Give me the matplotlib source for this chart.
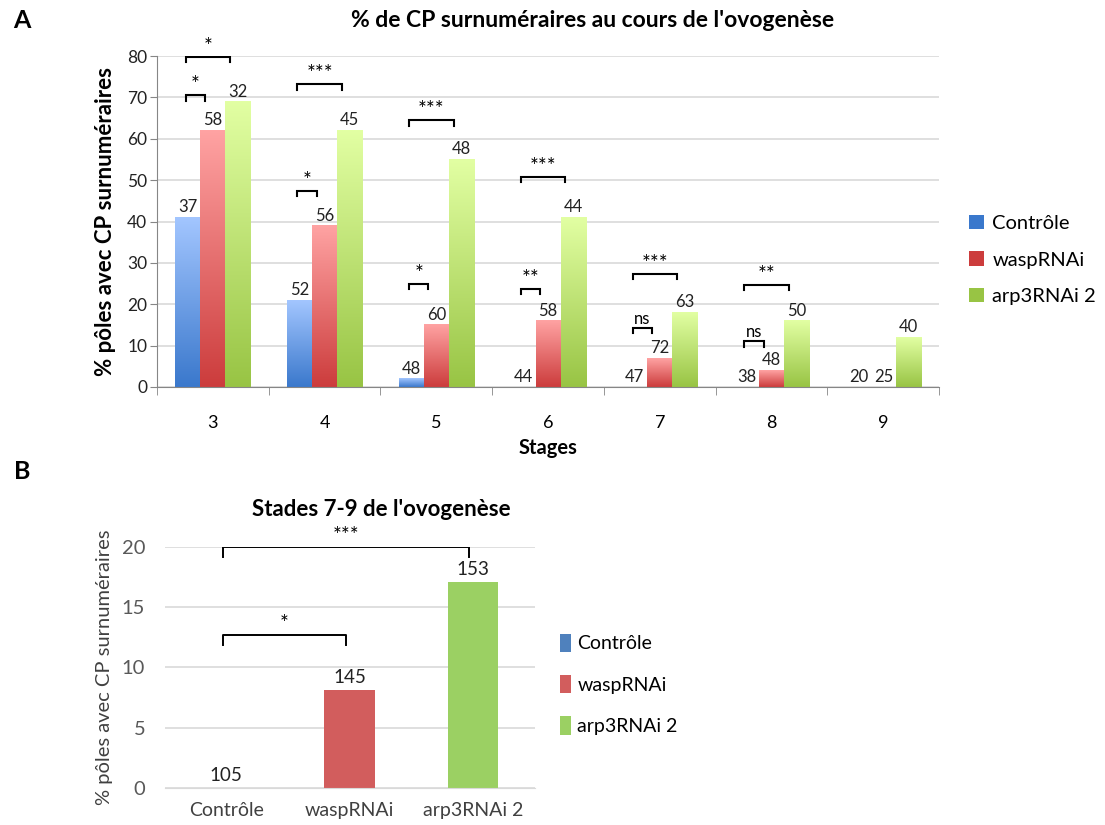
import numpy as np
import matplotlib
matplotlib.use("Agg")
import matplotlib.pyplot as plt
from matplotlib.colors import LinearSegmentedColormap
from matplotlib.patches import Patch

plt.rcParams["font.family"] = ["Lato", "DejaVu Sans"]

# --------------------------------------------------
# Data
# --------------------------------------------------

stages = ["3", "4", "5", "6", "7", "8", "9"]
series = ["Contrôle", "waspRNAi", "arp3RNAi 2"]

controle_pct = [41, 21, 2, 0, 0, 0, 0]
wasp_pct = [62, 39, 15, 16, 7, 4, 0]
arp3_pct = [69, 62, 55, 41, 18, 16, 12]

controle_n = [37, 52, 48, 44, 47, 38, 20]
wasp_n = [58, 56, 60, 58, 72, 48, 25]
arp3_n = [32, 45, 48, 44, 63, 50, 40]

# (stage index, left series, right series, height, label)
brackets_a = [
    (0, 0, 1, 70.5, "*"),
    (0, 0, 2, 79.8, "*"),
    (1, 0, 2, 73.2, "***"),
    (1, 0, 1, 47.4, "*"),
    (2, 0, 2, 64.5, "***"),
    (2, 0, 1, 25.0, "*"),
    (3, 0, 2, 50.8, "***"),
    (3, 0, 1, 23.8, "**"),
    (4, 0, 2, 27.3, "***"),
    (4, 0, 1, 14.3, "ns"),
    (5, 0, 2, 24.7, "**"),
    (5, 0, 1, 11.0, "ns"),
]

pooled_pct = [0, 8.1, 17.1]
pooled_n = [105, 145, 153]
brackets_b = [
    (0, 1, 12.7, "*"),
    (0, 2, 20.0, "***"),
]

# --------------------------------------------------
# Style
# --------------------------------------------------

flat_colors = ["#4f81bd", "#d25d5d", "#9bd063"]
grad_colors = [
    ("#3a78cc", "#a3c6ff"),
    ("#cc3c3c", "#ffa3a3"),
    ("#98c444", "#e2ffa3"),
]
grid_color = "#d9d9d9"
text_gray = "#404040"


def label_size(lab, base):
    # asterisks look small in Lato, bump them up
    return base + 3 if "*" in lab else base


fig = plt.figure(figsize=(11.05, 8.25), dpi=100)

# --------------------------------------------------
# Panel A
# --------------------------------------------------

ax = fig.add_axes([0.142, 0.531, 0.708, 0.401])

x = np.arange(len(stages))
bw = 0.224
offsets = [-bw, 0, bw]
all_pct = [controle_pct, wasp_pct, arp3_pct]
all_n = [controle_n, wasp_n, arp3_n]

grad = np.linspace(0, 1, 256).reshape(-1, 1)

for i, (vals, ns) in enumerate(zip(all_pct, all_n)):
    bars = ax.bar(x + offsets[i], vals, width=bw, color="none", zorder=2)
    cmap = LinearSegmentedColormap.from_list(f"g{i}", grad_colors[i])
    for rect, v, n in zip(bars, vals, ns):
        if v > 0:
            x0 = rect.get_x()
            ax.imshow(grad, extent=[x0, x0 + bw, 0, v], origin="lower",
                      cmap=cmap, aspect="auto", zorder=2)
        ax.text(rect.get_x() + bw / 2, v + 0.5, str(n), ha="center",
                va="bottom", fontsize=12, color="#222222", zorder=4)

for k, a, b, y, lab in brackets_a:
    x1 = x[k] + offsets[a] - 0.02
    x2 = x[k] + offsets[b] - 0.07
    ax.plot([x1, x1, x2, x2], [y - 1.3, y, y, y - 1.3], color="black",
            lw=1.5, zorder=5, solid_joinstyle="miter")
    dy = 0.0 if "*" in lab else 0.3
    ax.text((x1 + x2) / 2, y + dy, lab, ha="center", va="bottom",
            fontsize=label_size(lab, 12), zorder=5)

ax.set_xlim(-0.5, len(stages) - 0.5)
ax.set_ylim(0, 80)
ax.set_yticks(range(0, 81, 10))
ax.yaxis.grid(True, color=grid_color, lw=1.2)
ax.set_axisbelow(True)
ax.set_xticks(x)
ax.set_xticklabels(stages, fontsize=13)
ax.set_xticks(np.arange(-0.5, len(stages), 1), minor=True)
ax.tick_params(axis="x", which="major", length=0, pad=20)
ax.tick_params(axis="x", which="minor", length=6, color="#868686")
ax.tick_params(axis="y", length=5, color="#868686", labelsize=12.5,
               labelcolor="#222222", pad=2)
for side in ["top", "right"]:
    ax.spines[side].set_visible(False)
for side in ["left", "bottom"]:
    ax.spines[side].set_color("#868686")

ax.set_xlabel("Stages", fontsize=14.5, fontweight="bold", labelpad=5)
ax.set_ylabel("% pôles avec CP surnuméraires", fontsize=16,
              fontweight="bold", labelpad=8)

handles = [Patch(facecolor=c[0], edgecolor="none") for c in grad_colors]
ax.legend(handles, series, loc="center left", bbox_to_anchor=(1.015, 0.384),
          frameon=False, fontsize=14.5, handlelength=0.75, handleheight=0.75,
          handletextpad=0.4, labelspacing=0.95)

fig.text(0.536, 0.975, "% de CP surnuméraires au cours de l'ovogenèse",
         ha="center", va="center", fontsize=16.5, fontweight="bold")
fig.text(0.02, 0.975, "A", ha="center", va="center", fontsize=18,
         fontweight="bold")

# --------------------------------------------------
# Panel B
# --------------------------------------------------

bx = fig.add_axes([0.149, 0.045, 0.335, 0.292])

xb = np.arange(len(series))
bars_b = bx.bar(xb, pooled_pct, width=0.41, color=flat_colors, zorder=2)
for rect, v, n in zip(bars_b, pooled_pct, pooled_n):
    bx.text(rect.get_x() + rect.get_width() / 2, v + 0.35, str(n),
            ha="center", va="bottom", fontsize=13.5, color="#222222")

for a, b, y, lab in brackets_b:
    x1 = xb[a] - 0.03
    x2 = xb[b] - 0.03
    bx.plot([x1, x1, x2, x2], [y - 0.8, y, y, y - 0.8], color="black",
            lw=1.4, zorder=5)
    bx.text((x1 + x2) / 2, y + 0.1, lab, ha="center", va="bottom",
            fontsize=label_size(lab, 12))

bx.set_xlim(-0.5, len(series) - 0.5)
bx.set_ylim(0, 20)
bx.set_yticks(range(0, 21, 5))
bx.yaxis.grid(True, color=grid_color, lw=1.2)
bx.set_axisbelow(True)
bx.set_xticks(xb)
bx.set_xticklabels(series, fontsize=14, color=text_gray)
bx.tick_params(axis="x", length=0, pad=10)
bx.tick_params(axis="y", length=0, labelsize=14.5, labelcolor="#595959",
               pad=14)
for side in ["top", "right", "left"]:
    bx.spines[side].set_visible(False)
bx.spines["bottom"].set_color(grid_color)

bx.set_ylabel("% pôles avec CP surnuméraires", fontsize=14.5,
              color=text_gray, labelpad=6)

handles_b = [Patch(facecolor=c, edgecolor="none") for c in flat_colors]
bx.legend(handles_b, series, loc="center left", bbox_to_anchor=(1.02, 0.43),
          frameon=False, fontsize=14, handlelength=0.6, handleheight=1.1,
          handletextpad=0.3, labelspacing=1.15)

fig.text(0.345, 0.383, "Stades 7-9 de l'ovogenèse", ha="center",
         va="center", fontsize=16, fontweight="bold")
fig.text(0.02, 0.428, "B", ha="center", va="center", fontsize=18,
         fontweight="bold")

fig.savefig("out.png", dpi=100, facecolor="white")
